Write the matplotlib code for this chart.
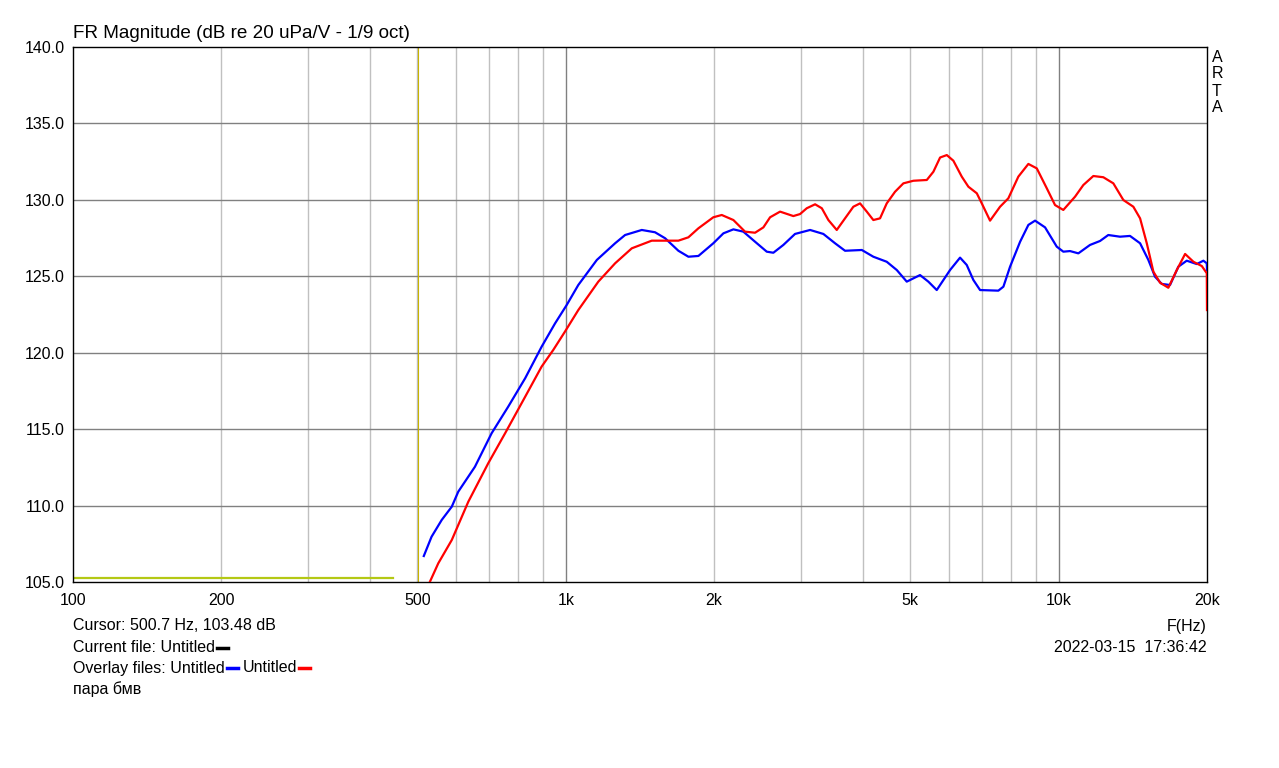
import numpy as np
import matplotlib
matplotlib.use('Agg')
import matplotlib.pyplot as plt
from matplotlib.ticker import FixedLocator, NullFormatter
from matplotlib.lines import Line2D

plt.rcParams['font.family'] = ['Liberation Sans', 'DejaVu Sans']

# data (Hz, dB)
blue_f = [515, 534, 560, 587, 605, 654, 707, 764, 827, 893, 951, 1004, 1060, 1156, 1259,
          1319, 1426, 1517, 1590, 1692, 1773, 1858, 1992, 2088, 2188, 2292, 2421, 2557,
          2637, 2763, 2918, 3131, 3331, 3518, 3686, 3987, 4207, 4479, 4694, 4918, 5233,
          5440, 5658, 6021, 6309, 6509, 6713, 6927, 7545, 7725, 7970, 8352, 8681, 8957,
          9385, 9911, 10221, 10546, 10964, 11578, 12134, 12610, 13321, 13958, 14630,
          15206, 15690, 16189, 16827, 17497, 18196, 19067, 19665, 19980, 20000]
blue_db = [106.70, 107.96, 109.06, 109.93, 110.91, 112.54, 114.73, 116.47, 118.33, 120.39,
           121.92, 123.12, 124.43, 126.07, 127.16, 127.70, 128.03, 127.88, 127.49, 126.67,
           126.28, 126.33, 127.16, 127.81, 128.07, 127.92, 127.26, 126.61, 126.54, 127.05,
           127.77, 128.03, 127.77, 127.16, 126.67, 126.72, 126.28, 125.95, 125.41, 124.65,
           125.08, 124.65, 124.10, 125.41, 126.22, 125.74, 124.76, 124.10, 124.06, 124.32,
           125.63, 127.26, 128.36, 128.64, 128.20, 126.94, 126.61, 126.65, 126.50, 127.05,
           127.31, 127.70, 127.59, 127.64, 127.16, 126.07, 124.97, 124.50, 124.43, 125.63,
           126.02, 125.80, 126.02, 125.85, 125.40]

red_f = [530, 551, 587, 634, 696, 753, 827, 893, 943, 996, 1060, 1164, 1259, 1361, 1494,
         1692, 1773, 1858, 1992, 2072, 2188, 2310, 2421, 2517, 2597, 2721, 2895, 2987,
         3082, 3205, 3307, 3410, 3546, 3686, 3832, 3954, 4080, 4207, 4341, 4479, 4656,
         4841, 5073, 5401, 5570, 5747, 5930, 6115, 6359, 6559, 6822, 6983, 7258, 7605,
         7905, 8284, 8681, 9029, 9460, 9833, 10221, 10798, 11222, 11759, 12321, 12912,
         13530, 14177, 14630, 15095, 15569, 16063, 16696, 17367, 18055, 18771, 19520,
         19980, 20000]
red_db = [105.02, 106.22, 107.75, 110.25, 112.77, 114.73, 117.12, 119.09, 120.18, 121.38,
          122.79, 124.65, 125.85, 126.83, 127.33, 127.33, 127.55, 128.14, 128.86, 129.01,
          128.68, 127.92, 127.85, 128.20, 128.86, 129.23, 128.94, 129.07, 129.45, 129.71,
          129.45, 128.68, 128.03, 128.79, 129.55, 129.77, 129.23, 128.68, 128.79, 129.77,
          130.53, 131.08, 131.25, 131.30, 131.84, 132.77, 132.93, 132.56, 131.52, 130.86,
          130.43, 129.77, 128.64, 129.55, 130.10, 131.52, 132.35, 132.06, 130.76, 129.66,
          129.34, 130.21, 130.97, 131.56, 131.48, 131.08, 129.99, 129.55, 128.79, 127.16,
          125.30, 124.58, 124.25, 125.41, 126.46, 125.95, 125.67, 125.20, 122.79]

cur_f = [100, 446]
cur_db = [105.27, 105.27]
cursor_f = 500.7

x_ticks = [100, 200, 500, 1000, 2000, 5000, 10000, 20000]
x_labels = ['100', '200', '500', '1k', '2k', '5k', '10k', '20k']
y_ticks = [105, 110, 115, 120, 125, 130, 135, 140]

fig = plt.figure(figsize=(12.79, 7.68), dpi=100)
ax = fig.add_axes([73 / 1279, 1 - 582 / 768, 1134 / 1279, 535 / 768])
ax.set_xscale('log')
ax.set_xlim(100, 20000)
ax.set_ylim(105, 140)

# grid: minor verticals light, decades and dB lines darker
minor = [f * d for d in (100, 1000, 10000) for f in range(2, 10) if f * d < 20000]
for f in minor:
    ax.axvline(f, color='#c0c0c0', lw=1, zorder=0)
for f in (1000, 10000):
    ax.axvline(f, color='#808080', lw=1, zorder=0)
for y in y_ticks[1:-1]:
    ax.axhline(y, color='#808080', lw=1, zorder=0)

ax.axvline(cursor_f, color='#c8b400', lw=0.8, zorder=1)
ax.plot(cur_f, cur_db, color='#b4c814', lw=1.6, zorder=2)
ax.plot(blue_f, blue_db, color='#0000ff', lw=1.6, zorder=3, solid_joinstyle='round')
ax.plot(red_f, red_db, color='#ff0000', lw=1.6, zorder=4, solid_joinstyle='round')

ax.xaxis.set_major_locator(FixedLocator(x_ticks))
ax.xaxis.set_minor_formatter(NullFormatter())
ax.set_xticklabels(x_labels)
ax.set_yticks(y_ticks)
ax.set_yticklabels([f'{v:.1f}' for v in y_ticks])
ax.tick_params(which='both', length=0, labelsize=11.5, pad=6)
ax.tick_params(axis='x', pad=8)
for s in ax.spines.values():
    s.set_color('black')
    s.set_linewidth(1)

fs = 11.5
fig.text(73 / 1279, 1 - 33 / 768, 'FR Magnitude (dB re 20 uPa/V - 1/9 oct)', fontsize=13.6, va='center')
for i, ch in enumerate('ARTA'):
    fig.text(1212 / 1279, 1 - (57 + i * 17) / 768, ch, fontsize=fs, va='center')

fig.text(73 / 1279, 1 - 626 / 768, 'Cursor: 500.7 Hz, 103.48 dB', fontsize=fs, va='center')
t1 = fig.text(73 / 1279, 1 - 648 / 768, 'Current file: Untitled', fontsize=fs, va='center')
t2 = fig.text(73 / 1279, 1 - 668 / 768, 'Overlay files: Untitled', fontsize=fs, va='center')
fig.text(73 / 1279, 1 - 689 / 768, 'пара бмв', fontsize=fs, va='center')
fig.text(1207 / 1279, 1 - 626 / 768, 'F(Hz)', fontsize=fs, va='center', ha='right')
fig.text(1207 / 1279, 1 - 648 / 768, '2022-03-15  17:36:42', fontsize=fs, va='center', ha='right')

# little colour dashes after the file names
fig.canvas.draw()
r = fig.canvas.get_renderer()

def dash(after, color, y):
    bb = after.get_window_extent(r)
    x0 = bb.x1 / 1279 + 2 / 1279
    yy = 1 - y / 768
    fig.add_artist(Line2D([x0, x0 + 11 / 1279], [yy, yy], color=color, lw=2.5))
    return bb

dash(t1, 'black', 648)
bb = dash(t2, '#0000ff', 668)
t3 = fig.text(bb.x1 / 1279 + 18 / 1279, 1 - 668 / 768, 'Untitled', fontsize=fs, va='center')
fig.canvas.draw()
dash(t3, '#ff0000', 668)

fig.savefig('out.png', dpi=100)
